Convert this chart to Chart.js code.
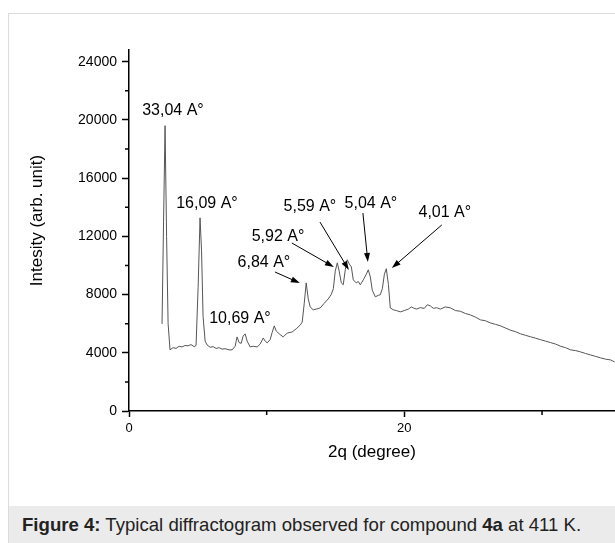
<!DOCTYPE html>
<html>
<head>
<meta charset="utf-8">
<script src="https://cdn.jsdelivr.net/npm/chart.js@4.4.1/dist/chart.umd.min.js"></script>
<style>
  html, body { margin: 0; padding: 0; background: #fff; }
  body { width: 615px; height: 543px; position: relative; overflow: hidden; font-family: "Liberation Sans", Arial, sans-serif; }
  .frame { position: absolute; left: 8px; top: 13px; width: 640px; height: 540px; border: 1px solid #dcdcdc; box-sizing: border-box; }
  .caption { position: absolute; left: 9px; top: 506px; width: 620px; height: 40px; background: #ebebeb; font-size: 18.6px; color: #222; line-height: 18px; padding: 10px 0 0 13px; box-sizing: border-box; white-space: nowrap; }
  #wrap { position: absolute; left: 0; top: 0; width: 615px; height: 506px; }
</style>
</head>
<body>
<div class="frame"></div>
<div class="caption"><b>Figure 4:</b> Typical diffractogram observed for compound <b>4a</b> at 411 K.</div>
<div id="wrap"><canvas id="xrd"></canvas></div>
<script>
// diffractogram: 2theta (deg) and intensity (arb. unit)
const twoTheta = [
  2.40, 2.51, 2.62, 2.73, 2.84, 2.98, 3.20, 3.42, 3.64, 3.85, 4.07, 4.29, 4.51, 4.73, 4.87,
  5.02, 5.16, 5.27, 5.38, 5.53, 5.67, 5.89, 6.11, 6.33, 6.55, 6.76, 6.98, 7.27, 7.49, 7.71,
  7.85, 8.00, 8.15, 8.29, 8.44, 8.58, 8.80, 9.02, 9.31, 9.53, 9.75, 9.89, 10.04, 10.25, 10.40,
  10.55, 10.69, 10.91, 11.20, 11.49, 11.85, 12.15, 12.44, 12.58, 12.73, 12.87, 13.02, 13.16, 13.38,
  13.60, 13.89, 14.18, 14.47, 14.69, 14.84, 14.98, 15.13, 15.27, 15.42, 15.56, 15.71, 15.85, 16.00,
  16.15, 16.29, 16.51, 16.65, 16.80, 17.02, 17.24, 17.38, 17.53, 17.67, 17.89, 18.11, 18.25, 18.40,
  18.55, 18.69, 18.84, 18.98, 19.20, 19.42, 19.71, 20.00, 20.29, 20.51, 20.65, 20.87, 21.16, 21.45,
  21.67, 21.89, 22.11, 22.33, 22.62, 22.98, 23.35, 23.71, 24.07, 24.44, 24.80, 25.16, 25.53, 25.89,
  26.25, 26.62, 26.98, 27.35, 27.71, 28.07, 28.44, 28.80, 29.16, 29.53, 29.89, 30.25, 30.62, 30.98,
  31.35, 31.71, 32.07, 32.44, 32.80, 33.16, 33.53, 33.89, 34.25, 34.62, 34.98, 35.27
];
const intensity = [
  5980, 13000, 19600, 12000, 6000, 4200, 4350, 4300, 4450, 4400, 4500, 4480, 4560, 4420, 4500,
  8500, 13270, 11000, 6500, 4800, 4540, 4380, 4420, 4300, 4350, 4250, 4280, 4200, 4200, 4450,
  5090, 4700, 4650, 5150, 5300, 4800, 4400, 4450, 4400, 4600, 5020, 4800, 4680, 4900, 5400,
  5850, 5500, 5300, 5090, 5350, 5430, 5650, 5910, 6100, 7400, 8800, 7700, 7150, 6950,
  7000, 7080, 7400, 7700, 8000, 8400, 9600, 10180, 9600, 8800, 8670, 9700, 10390, 10100,
  9900, 9010, 8800, 8900, 8670, 9010, 9400, 9700, 9200, 8300, 7840, 7950, 7980, 8400,
  9400, 9770, 8700, 7080, 6950, 6900, 6810, 6900, 7000, 7150, 7080, 7000, 7100, 7050,
  7300, 7220, 7050, 7100, 7000, 7150, 7080, 6900, 6850, 6700, 6600, 6450, 6260, 6200,
  6050, 5950, 5850, 5700, 5550, 5450, 5300, 5200, 5100, 5000, 4900, 4800, 4700, 4600,
  4450, 4350, 4200, 4150, 4060, 3950, 3850, 3750, 3650, 3560, 3510, 3370
];

const yTicks = [0, 4000, 8000, 12000, 16000, 20000, 24000];
const xTicks = [0, 20];

// peak labels: text and where it sits (data units)
const peakText = ['33,04 A°', '16,09 A°', '10,69 A°', '6,84 A°', '5,92 A°', '5,59 A°', '5,04 A°', '4,01 A°'];
const peakTextX = [3.19, 5.66, 8.06, 9.80, 10.82, 13.14, 17.57, 22.94];
const peakTextY = [20610, 14220, 6320, 10170, 11950, 14015, 14220, 13600];
// arrows for the crowded peaks: start and tip (data units), null = no arrow
const arrowFromX = [null, null, null, 10.60, 11.83, 13.87, 16.99, 22.72];
const arrowFromY = [null, null, null, 9550, 11540, 12980, 13600, 12780];
const arrowToX = [null, null, null, 12.41, 14.88, 15.97, 17.35, 19.09];
const arrowToY = [null, null, null, 8790, 9890, 9690, 10240, 9820];

const points = twoTheta.map((t, i) => ({ x: t, y: intensity[i] }));
const FONT = '"Liberation Sans", Arial, sans-serif';

const peakLabels = {
  id: 'peakLabels',
  afterDatasetsDraw(chart) {
    const { ctx, scales: { x, y } } = chart;
    ctx.save();
    ctx.fillStyle = '#000';
    ctx.strokeStyle = '#000';
    ctx.lineWidth = 1;
    ctx.font = '16px ' + FONT;
    ctx.textAlign = 'center';
    ctx.textBaseline = 'middle';
    peakText.forEach((txt, i) => {
      ctx.fillText(txt, x.getPixelForValue(peakTextX[i]), y.getPixelForValue(peakTextY[i]));
      if (arrowFromX[i] === null) return;
      const x0 = x.getPixelForValue(arrowFromX[i]), y0 = y.getPixelForValue(arrowFromY[i]);
      const x1 = x.getPixelForValue(arrowToX[i]), y1 = y.getPixelForValue(arrowToY[i]);
      const a = Math.atan2(y1 - y0, x1 - x0);
      ctx.beginPath();
      ctx.moveTo(x0, y0);
      ctx.lineTo(x1 - 7 * Math.cos(a), y1 - 7 * Math.sin(a));
      ctx.stroke();
      ctx.beginPath();
      ctx.moveTo(x1, y1);
      ctx.lineTo(x1 - 9 * Math.cos(a) + 3 * Math.sin(a), y1 - 9 * Math.sin(a) - 3 * Math.cos(a));
      ctx.lineTo(x1 - 9 * Math.cos(a) - 3 * Math.sin(a), y1 - 9 * Math.sin(a) + 3 * Math.cos(a));
      ctx.closePath();
      ctx.fill();
    });

    // minor ticks halfway between the labelled ones
    ctx.lineWidth = 1.5;
    ctx.beginPath();
    for (let i = 0; i < yTicks.length; i++) {
      const py = y.getPixelForValue(yTicks[i] + 2000);
      if (py < chart.chartArea.top) break;
      ctx.moveTo(x.left - 4, py);
      ctx.lineTo(x.left, py);
    }
    [10, 30].forEach(v => {
      const px = x.getPixelForValue(v);
      ctx.moveTo(px, y.bottom);
      ctx.lineTo(px, y.bottom + 4);
    });
    ctx.stroke();

    // y axis title, a little above the middle of the axis as in the figure
    ctx.font = '17px ' + FONT;
    ctx.translate(37, (y.top + y.bottom) / 2 - 10);
    ctx.rotate(-Math.PI / 2);
    ctx.fillText('Intesity (arb. unit)', 0, 0);
    ctx.restore();
  }
};

new Chart(document.getElementById('xrd'), {
  type: 'line',
  data: {
    datasets: [{
      data: points,
      borderColor: '#555',
      borderWidth: 1,
      pointRadius: 0,
      tension: 0,
    }]
  },
  options: {
    responsive: true,
    maintainAspectRatio: false,
    animation: false,
    layout: { padding: { left: 0, top: 50, right: 0, bottom: 0 } },
    plugins: { legend: { display: false }, tooltip: { enabled: false } },
    scales: {
      x: {
        type: 'linear',
        min: 0,
        max: 35.3,
        afterFit: s => { s.height = 95; },
        afterBuildTicks: s => { s.ticks = xTicks.map(v => ({ value: v })); },
        ticks: { color: '#000', font: { size: 13, family: FONT }, padding: 4, maxRotation: 0, callback: v => String(v) },
        grid: { drawOnChartArea: false, tickLength: 6, tickWidth: 1.5, tickColor: '#000' },
        border: { color: '#000', width: 1.5 },
        title: { display: true, text: '2q (degree)', color: '#000', font: { size: 17, family: FONT }, padding: { bottom: 43 } }
      },
      y: {
        min: 0,
        max: 24800,
        afterFit: s => { s.width = 129; },
        afterBuildTicks: s => { s.ticks = yTicks.map(v => ({ value: v })); },
        ticks: { color: '#000', font: { size: 14, family: FONT }, padding: 5, callback: v => String(v) },
        grid: { drawOnChartArea: false, tickLength: 7, tickWidth: 1.5, tickColor: '#000' },
        border: { color: '#000', width: 1.5 },
        title: { display: false }
      }
    }
  },
  plugins: [peakLabels]
});
</script>
</body>
</html>
